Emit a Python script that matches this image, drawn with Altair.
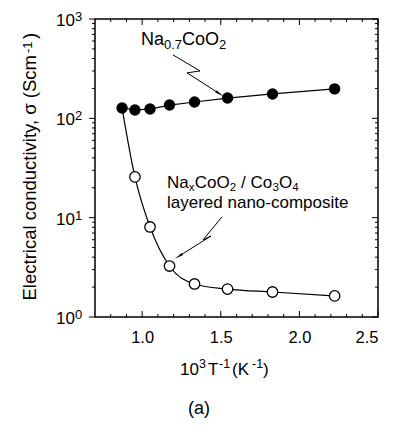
import altair as alt
import pandas as pd

# ---- data ----
bulk_x = [0.872, 0.954, 1.050, 1.174, 1.333, 1.543, 1.829, 2.224]
bulk_y = [127, 121.5, 124, 136, 146, 160, 176, 198]

comp_x = [0.954, 1.050, 1.174, 1.333, 1.543, 1.829, 2.224]
comp_y = [25.7, 8.06, 3.26, 2.15, 1.91, 1.785, 1.63]

# composite curve starts at the first bulk point
comp_line_x = [0.872] + comp_x
comp_line_y = [127] + comp_y

# annotation arrows (data coordinates)
arrow1_x = [1.196, 1.368, 1.285, 1.485]
arrow1_y = [435, 300, 287, 180]
arrow2_x = [1.508, 1.387, 1.438, 1.240]
arrow2_y = [10.2, 5.96, 6.54, 4.15]

x_major = [1.0, 1.5, 2.0, 2.5]
x_minor = [0.8, 0.9, 1.1, 1.2, 1.3, 1.4, 1.6, 1.7, 1.8, 1.9, 2.1, 2.2, 2.3, 2.4]
y_major = [1, 10, 100, 1000]
y_exp = ["0", "1", "2", "3"]
y_minor = [2, 3, 4, 5, 6, 7, 8, 9, 20, 30, 40, 50, 60, 70, 80, 90,
           200, 300, 400, 500, 600, 700, 800, 900]

W, H = 283, 298
FONT = "Liberation Sans"

xs = alt.Scale(domain=[0.7, 2.5], nice=False, zero=False)
ys = alt.Scale(type="log", domain=[1, 1000], nice=False)
xaxis = alt.Axis(values=x_major, format=".1f", ticks=False, domain=False, grid=False,
                 labelFontSize=16.5, labelFont=FONT, labelColor="black",
                 labelPadding=12, title=None)

def X(f="x"):
    return alt.X(f"{f}:Q", scale=xs, axis=xaxis)

def Y(f="y"):
    return alt.Y(f"{f}:Q", scale=ys, axis=None)

bulk = pd.DataFrame({"x": bulk_x, "y": bulk_y})
comp = pd.DataFrame({"x": comp_x, "y": comp_y})
comp_line = pd.DataFrame({"x": comp_line_x, "y": comp_line_y})
a1 = pd.DataFrame({"x": arrow1_x, "y": arrow1_y, "o": range(len(arrow1_x))})
a2 = pd.DataFrame({"x": arrow2_x, "y": arrow2_y, "o": range(len(arrow2_x))})

layers = []

# data lines
layers.append(alt.Chart(bulk).mark_line(color="black", strokeWidth=1.2).encode(x=X(), y=Y()))
layers.append(alt.Chart(comp_line).mark_line(color="black", strokeWidth=1.2,
                                             interpolate="monotone").encode(x=X(), y=Y()))
# points
layers.append(alt.Chart(bulk).mark_point(filled=True, color="black", size=130, opacity=1,
                                         shape="circle").encode(x=X(), y=Y()))
layers.append(alt.Chart(comp).mark_point(filled=True, fill="white", stroke="black",
                                         strokeWidth=1.3, size=110, opacity=1,
                                         shape="circle").encode(x=X(), y=Y()))

# arrows
for df, ang in [(a1, 122), (a2, 238)]:
    layers.append(alt.Chart(df).mark_line(color="black", strokeWidth=1).encode(
        x=X(), y=Y(), order="o:Q"))
    tip = df.tail(1)
    layers.append(alt.Chart(tip).mark_point(shape="wedge", filled=True, color="black",
                                            size=110, opacity=1, angle=ang).encode(x=X(), y=Y()))

# ticks
tx_major = pd.DataFrame({"x": x_major})
tx_minor = pd.DataFrame({"x": x_minor})
ty_major = pd.DataFrame({"y": y_major, "e": y_exp})
ty_minor = pd.DataFrame({"y": y_minor})
for df, L in [(tx_major, 6), (tx_minor, 3)]:
    layers.append(alt.Chart(df).mark_rule(color="black", strokeWidth=1).encode(
        x=X(), y=alt.value(H), y2=alt.value(H - L)))
    layers.append(alt.Chart(df).mark_rule(color="black", strokeWidth=1).encode(
        x=X(), y=alt.value(0), y2=alt.value(L)))
for df, L in [(ty_major, 6), (ty_minor, 3)]:
    layers.append(alt.Chart(df).mark_rule(color="black", strokeWidth=1).encode(
        y=Y(), x=alt.value(-L), x2=alt.value(0)))
    layers.append(alt.Chart(df).mark_rule(color="black", strokeWidth=1).encode(
        y=Y(), x=alt.value(W - L), x2=alt.value(W)))

# y tick labels 10^n
layers.append(alt.Chart(ty_major).mark_text(align="right", baseline="alphabetic", fontSize=17,
                                            font=FONT, color="black", dy=7).encode(
    y=Y(), x=alt.value(-20), text=alt.value("10")))
layers.append(alt.Chart(ty_major).mark_text(align="left", baseline="alphabetic", fontSize=13,
                                            font=FONT, color="black", dy=2).encode(
    y=Y(), x=alt.value(-20), text="e:N"))

def txt(s, x, y, size=16, angle=None, align="left"):
    kw = dict(align=align, baseline="alphabetic", fontSize=size, font=FONT, color="black")
    if angle is not None:
        kw["angle"] = angle
    return alt.Chart(pd.DataFrame({"a": [0]})).mark_text(**kw).encode(
        x=alt.value(x), y=alt.value(y), text=alt.value(s))

# Na0.7CoO2 label
layers += [txt("Na", 46, 26, 18), txt("0.7", 69, 30, 13), txt("CoO", 87, 26, 18), txt("2", 124, 30, 13)]
# composite label
layers += [txt("Na", 72, 169, 17), txt("x", 93.7, 172, 11.5), txt("CoO", 99.7, 169, 17),
           txt("2", 134.7, 172, 11.5), txt("/ Co", 146, 169, 17), txt("3", 177.5, 172, 11.5),
           txt("O", 184, 169, 17), txt("4", 197.2, 172, 11.5),
           txt("layered nano-composite", 72, 189, 17)]
# x title
layers += [txt("10", 85, 356, 17), txt("3", 104, 349, 12.5), txt("T", 113, 356, 17),
           txt("-1", 124, 349, 12.5), txt("(K", 137, 356, 17), txt("-1", 157, 349, 12.5),
           txt(")", 168, 356, 17)]
# panel label
layers.append(txt("(a)", 93, 395, 18))
# y title
layers += [txt("Electrical conductivity, \u03c3 (Scm", -59, 36, 18.5, angle=270, align="right"),
           txt("-1", -63, 34, 13, angle=270),
           txt(")", -59, 20, 18.5, angle=270)]

chart = alt.layer(*layers).properties(
    width=W, height=H,
    padding={"left": 95, "top": 19, "right": 18, "bottom": 109},
    autosize=alt.AutoSizeParams(type="none"),
).configure_view(stroke="black", strokeWidth=1.5)

chart.save("out.html", embed_options={"renderer": "svg", "actions": False})
